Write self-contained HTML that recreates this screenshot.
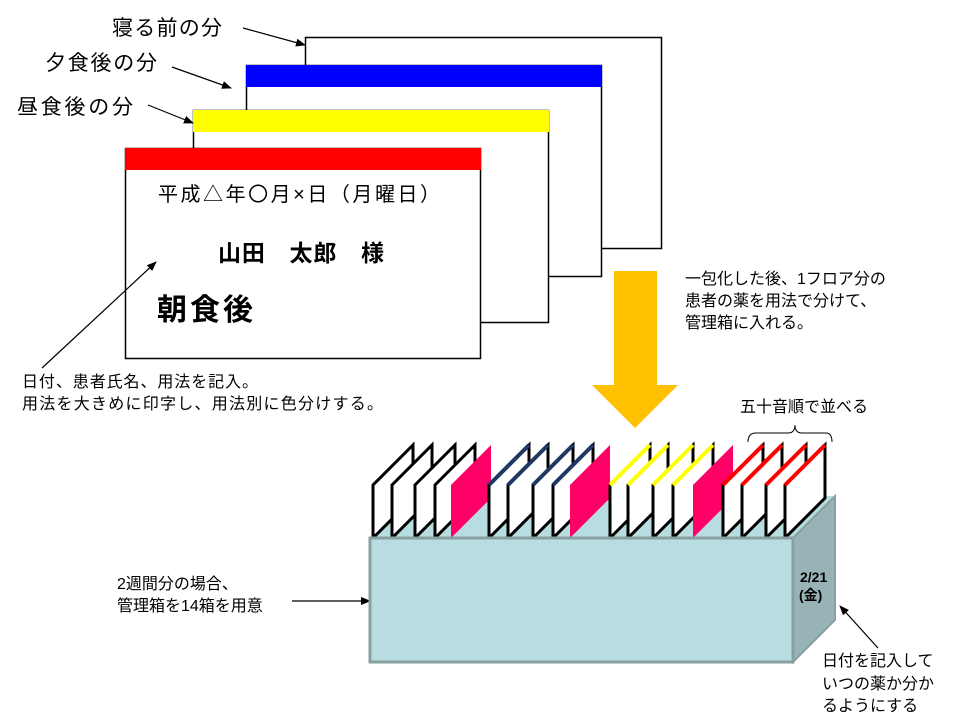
<!DOCTYPE html>
<html><head><meta charset="utf-8"><style>
body{margin:0;background:#fff;}
svg text{font-family:"Liberation Sans","Noto Sans CJK JP",sans-serif;}
</style></head><body>
<svg width="960" height="720" viewBox="0 0 960 720" xmlns="http://www.w3.org/2000/svg">
<defs><marker id="a" markerWidth="10" markerHeight="8" refX="9" refY="4" orient="auto" markerUnits="userSpaceOnUse"><path d="M0,0 L10,4 L0,8z" fill="#000"/></marker></defs>
<rect x="305.5" y="37.5" width="356" height="211" fill="#fff" stroke="#000" stroke-width="1.5"/>
<rect x="246.5" y="65.5" width="355" height="211" fill="#fff" stroke="#000" stroke-width="1.5"/>
<rect x="246" y="65" width="356" height="22" fill="#0000ff"/>
<rect x="193.5" y="110.5" width="355" height="212" fill="#fff" stroke="#000" stroke-width="1.5"/>
<rect x="193" y="110" width="356" height="22" fill="#ffff00"/>
<rect x="125.5" y="148.5" width="355" height="210" fill="#fff" stroke="#000" stroke-width="1.5"/>
<rect x="125" y="148" width="356" height="22" fill="#ff0000"/>
<text x="158" y="201" font-size="20" textLength="282" lengthAdjust="spacing">平成△年〇月×日（月曜日）</text>
<text x="218" y="261" font-size="23" font-weight="bold" textLength="166" lengthAdjust="spacing">山田　太郎　様</text>
<text x="157" y="320" font-size="30" font-weight="bold" textLength="96" lengthAdjust="spacing">朝食後</text>
<text x="112" y="35" font-size="21" textLength="110" lengthAdjust="spacing">寝る前の分</text>
<text x="45" y="70" font-size="21" textLength="112" lengthAdjust="spacing">夕食後の分</text>
<text x="17" y="114" font-size="21" textLength="116" lengthAdjust="spacing">昼食後の分</text>
<g stroke="#000" stroke-width="1.2" marker-end="url(#a)">
<line x1="243" y1="28" x2="305" y2="45"/>
<line x1="172" y1="67" x2="231" y2="88"/>
<line x1="148" y1="105" x2="193" y2="123"/>
<line x1="42" y1="368" x2="156" y2="262"/>
<line x1="292" y1="601" x2="370" y2="601"/>
<line x1="878" y1="648" x2="840" y2="606"/>
</g>
<text x="22" y="387" font-size="16" textLength="236" lengthAdjust="spacing">日付、患者氏名、用法を記入。</text>
<text x="22" y="409" font-size="16" textLength="361" lengthAdjust="spacing">用法を大きめに印字し、用法別に色分けする。</text>
<polygon points="614,271 657,271 657,385 678,385 635,428 592,385 614,385" fill="#ffc000"/>
<text font-size="16"><tspan x="685" y="284">一包化した後、1フロア分の</tspan><tspan x="685" y="306">患者の薬を用法で分けて、</tspan><tspan x="685" y="328">管理箱に入れる。</tspan></text>
<text x="740" y="412" font-size="16">五十音順で並べる</text>
<path d="M748,442 Q748,433 756,433 L788,433 Q795,433 795,425 Q795,433 802,433 L826,433 Q832,433 832,442" fill="none" stroke="#000" stroke-width="1"/>
<polygon points="370,538 412,496 835,496 793,538" fill="#b8dde0"/>
<polygon points="793,538 835,496 835,620 793,662" fill="#98b3b5" stroke="#8a9fa1" stroke-width="2"/>
<g stroke-width="3" stroke-linejoin="miter">
<g fill="#fff" stroke="#000">
<polygon points="373,538 373,485 413,445 413,498"/>
<polygon points="392,538 392,485 432,445 432,498"/>
<polygon points="415,538 415,485 455,445 455,498"/>
<polygon points="435,538 435,485 475,445 475,498"/>
</g>
<polygon points="451,538 451,485 491,445 491,498" fill="#ff0066"/>
<g fill="#fff" stroke="#000">
<polygon points="489,538 489,485 529,445 529,498"/><line x1="489" y1="485" x2="529" y2="445" stroke="#1f3864" stroke-width="4"/>
<polygon points="508,538 508,485 548,445 548,498"/><line x1="508" y1="485" x2="548" y2="445" stroke="#1f3864" stroke-width="4"/>
<polygon points="533,538 533,485 573,445 573,498"/><line x1="533" y1="485" x2="573" y2="445" stroke="#1f3864" stroke-width="4"/>
<polygon points="553,538 553,485 593,445 593,498"/><line x1="553" y1="485" x2="593" y2="445" stroke="#1f3864" stroke-width="4"/>
</g>
<polygon points="570,538 570,485 610,445 610,498" fill="#ff0066"/>
<g fill="#fff" stroke="#000">
<polygon points="610,538 610,485 650,445 650,498"/><line x1="610" y1="485" x2="650" y2="445" stroke="#ffff00" stroke-width="4"/>
<polygon points="628,538 628,485 668,445 668,498"/><line x1="628" y1="485" x2="668" y2="445" stroke="#ffff00" stroke-width="4"/>
<polygon points="653,538 653,485 693,445 693,498"/><line x1="653" y1="485" x2="693" y2="445" stroke="#ffff00" stroke-width="4"/>
<polygon points="673,538 673,485 713,445 713,498"/><line x1="673" y1="485" x2="713" y2="445" stroke="#ffff00" stroke-width="4"/>
</g>
<polygon points="693,538 693,485 733,445 733,498" fill="#ff0066"/>
<g fill="#fff" stroke="#000">
<polygon points="723,538 723,485 763,445 763,498"/><line x1="723" y1="485" x2="763" y2="445" stroke="#ff0000" stroke-width="4"/>
<polygon points="742,538 742,485 782,445 782,498"/><line x1="742" y1="485" x2="782" y2="445" stroke="#ff0000" stroke-width="4"/>
<polygon points="766,538 766,485 806,445 806,498"/><line x1="766" y1="485" x2="806" y2="445" stroke="#ff0000" stroke-width="4"/>
<polygon points="785,538 785,485 825,445 825,498"/><line x1="785" y1="485" x2="825" y2="445" stroke="#ff0000" stroke-width="4"/>
</g>
</g>
<rect x="370" y="538" width="423" height="124" fill="#b8dde0" stroke="#8a9fa1" stroke-width="3"/>
<text x="800" y="582" font-size="14" font-weight="bold">2/21</text>
<text x="799" y="600" font-size="14" font-weight="bold">(金)</text>
<text font-size="16"><tspan x="117" y="589">2週間分の場合、</tspan><tspan x="117" y="611">管理箱を14箱を用意</tspan></text>
<text font-size="16"><tspan x="822" y="666">日付を記入して</tspan><tspan x="822" y="689">いつの薬か分か</tspan><tspan x="822" y="711">るようにする</tspan></text>
</svg>
</body></html>
